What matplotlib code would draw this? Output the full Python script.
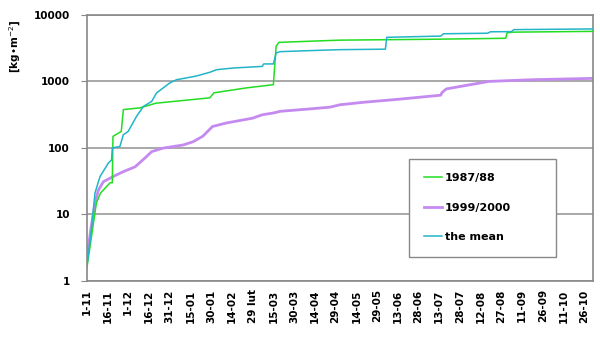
import matplotlib
matplotlib.use("Agg")
import matplotlib.pyplot as plt
from matplotlib.ticker import FixedLocator, NullLocator

# days counted from 1 Nov, cumulative values [kg/m2]
days_8788 = [0, 3, 7, 10, 17, 18.5, 19, 25, 26.5, 38.5, 50, 89, 92, 115, 135, 137,
             139, 166, 183, 250, 286, 303, 304, 308, 366]
vals_8788 = [1.5, 4, 14.8, 21, 30, 30, 149, 177, 377, 400, 470, 566, 673, 796, 893, 3380,
             3860, 4050, 4170, 4300, 4400, 4450, 5370, 5500, 5650]

days_9900 = [0, 3, 6, 8.4, 12, 19, 26.5, 35, 42, 47, 55, 70, 77, 84, 91, 101, 120, 127,
             135, 140, 154, 161, 176, 183, 200, 226, 256, 257, 260, 277, 291, 322, 366]
vals_9900 = [2.1, 6, 14.8, 23, 31, 37, 44, 52, 70, 88, 99, 111, 124, 150, 210, 237, 280, 315,
             335, 355, 375, 385, 410, 445, 485, 540, 620, 680, 770, 890, 1000, 1060, 1110]

days_mean = [0, 3, 6, 9.6, 15.6, 18, 18.5, 24, 26.5, 30, 36, 41, 47, 50.5, 60, 65, 79, 89,
             94, 106, 127, 128, 135, 137, 140, 161, 183, 216, 217, 256, 258, 290, 292, 307,
             309, 366]
vals_mean = [1.6, 5, 21, 37, 59, 66, 100, 105, 158, 177, 297, 420, 500, 670, 946, 1060, 1200,
             1370, 1500, 1590, 1680, 1830, 1830, 2680, 2800, 2900, 3000, 3050, 4600, 4800,
             5200, 5300, 5570, 5600, 6000, 6150]

tick_days = list(range(0, 361, 15))
tick_labels = ["1-11", "16-11", "1-12", "16-12", "31-12", "15-01", "30-01", "14-02",
               "29 lut", "15-03", "30-03", "14-04", "29-04", "14-05", "29-05", "13-06",
               "28-06", "13-07", "28-07", "12-08", "27-08", "11-09", "26-09", "11-10", "26-10"]

fig = plt.figure(figsize=(6, 3.46), dpi=100)
ax = fig.add_axes([0.1445, 0.188, 0.8435, 0.769])

ax.plot(days_8788, vals_8788, color="#22dd22", lw=1.1, label="1987/88", zorder=3)
ax.plot(days_9900, vals_9900, color="#c58af0", lw=2.0, label="1999/2000", zorder=2)
ax.plot(days_mean, vals_mean, color="#22b4c8", lw=1.1, label="the mean", zorder=3)

ax.set_yscale("log")
ax.set_ylim(1, 10000)
ax.set_xlim(0, 366)
ax.yaxis.set_major_locator(FixedLocator([1, 10, 100, 1000, 10000]))
ax.yaxis.set_minor_locator(NullLocator())
ax.set_yticklabels(["1", "10", "100", "1000", "10000"], fontsize=7.5, fontweight="bold")
ax.set_xticks(tick_days)
ax.set_xticklabels(tick_labels, rotation=90, fontsize=7.5, fontweight="bold")
ax.tick_params(axis="x", length=0, pad=6)
ax.tick_params(axis="y", length=4, color="#888888", pad=8)
ax.grid(axis="y", color="#999999", lw=1.2)
for s in ax.spines.values():
    s.set_color("#888888")
    s.set_linewidth(1.2)

fig.text(0.025, 0.865, "[kg\u2022m$^{-2}$]", rotation=90, ha="center", va="center",
         fontsize=7.5, fontweight="bold")

leg = ax.legend(loc="upper left", bbox_to_anchor=(0.637, 0.109, 0.29, 0.35), mode="expand",
                borderaxespad=0, fancybox=False, framealpha=1, edgecolor="#888888",
                prop={"size": 8, "weight": "bold"}, handlelength=1.7, handletextpad=0.2,
                labelspacing=1.75, borderpad=1.3)
leg.get_frame().set_linewidth(1.0)

fig.savefig("out.png", dpi=100)
